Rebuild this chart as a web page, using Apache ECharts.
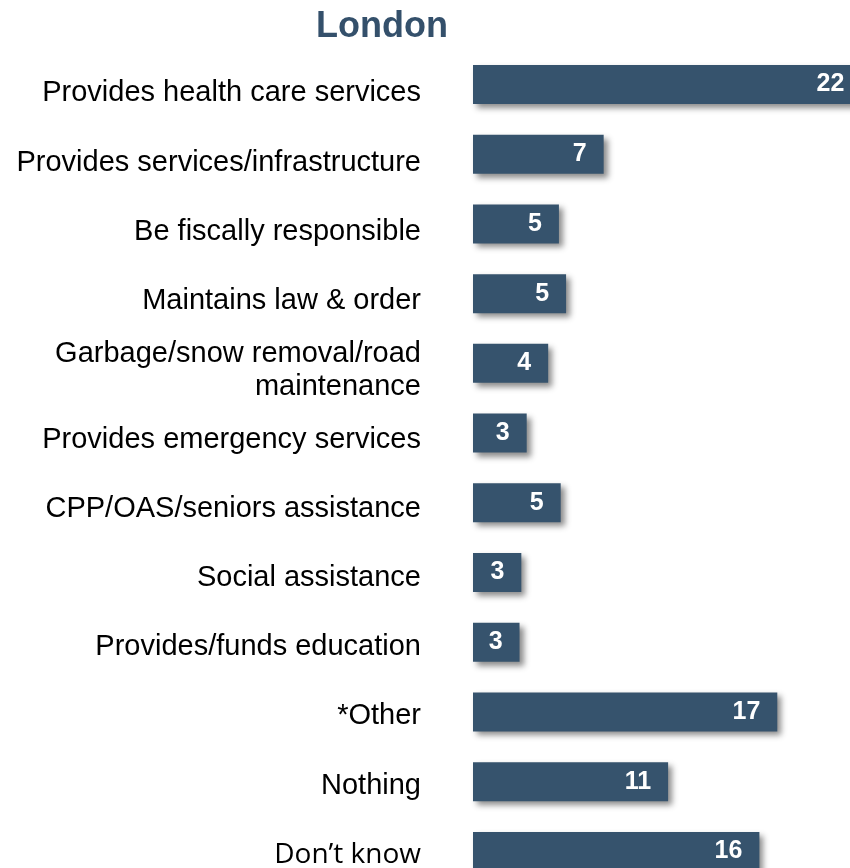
<!DOCTYPE html>
<html>
<head>
<meta charset="utf-8">
<script src="https://cdn.jsdelivr.net/npm/echarts@6/dist/echarts.min.js"></script>
<style>html,body{margin:0;padding:0;background:#fff;overflow:hidden;width:850px;height:868px;}#c{width:900px;height:920px;}</style>
</head>
<body>
<div id="c"></div>
<script>
var categories = [
  "Provides health care services",
  "Provides services/infrastructure",
  "Be fiscally responsible",
  "Maintains law & order",
  "Garbage/snow removal/road\nmaintenance",
  "Provides emergency services",
  "CPP/OAS/seniors assistance",
  "Social assistance",
  "Provides/funds education",
  "*Other",
  "Nothing",
  "Don\u2019t know"
];
var values = [21.7, 7.3, 4.8, 5.2, 4.2, 3.0, 4.9, 2.7, 2.6, 17.0, 10.9, 16.0];
var valueLabels = [22, 7, 5, 5, 4, 3, 5, 3, 3, 17, 11, 16];

// label vertical nudge (style only): labels in the reference sit slightly below bar centres
function labelNudge(i) { return 9 - 0.5 * i; }

var yData = categories.map(function (c, i) {
  return {value: c, textStyle: {padding: [2 * labelNudge(i), 0, 0, 0]}};
});

var chart = echarts.init(document.getElementById('c'), null, {renderer: 'canvas'});
chart.setOption({
  animation: false,
  backgroundColor: '#ffffff',
  title: {
    text: 'London',
    left: 311,
    top: 4,
    textStyle: {fontFamily: 'Liberation Sans, Arial, sans-serif', fontSize: 36, fontWeight: 'bold', color: '#34506b'}
  },
  grid: {left: 473, top: 49.6, width: 393.8, height: 836.7, containLabel: false},
  xAxis: {type: 'value', min: 0, max: 22, show: false},
  yAxis: {
    type: 'category',
    inverse: true,
    data: yData,
    axisLine: {show: false},
    axisTick: {show: false},
    splitLine: {show: false},
    axisLabel: {
      margin: 52,
      fontFamily: 'Liberation Sans, Arial, sans-serif',
      fontSize: 29,
      lineHeight: 33,
      color: '#000000',
      align: 'right',
      formatter: function (v) {
        if (v.indexOf('Don') === 0) return '{dk|' + v + '}';
        return v;
      },
      rich: {
        dk: {fontFamily: 'Open Sans, Noto Sans, sans-serif', fontSize: 28, color: '#000000'}
      }
    }
  },
  series: [{
    type: 'bar',
    data: values,
    barWidth: 39,
    itemStyle: {
      color: '#36536d',
      shadowColor: 'rgba(0,0,0,0.45)',
      shadowBlur: 6,
      shadowOffsetX: 4,
      shadowOffsetY: 4
    },
    label: {
      show: true,
      position: 'insideRight',
      distance: 17,
      color: '#ffffff',
      fontFamily: 'Liberation Sans, Arial, sans-serif',
      fontWeight: 'bold',
      fontSize: 25,
      formatter: function (p) { return String(valueLabels[p.dataIndex]); }
    }
  }]
});
</script>
</body>
</html>
